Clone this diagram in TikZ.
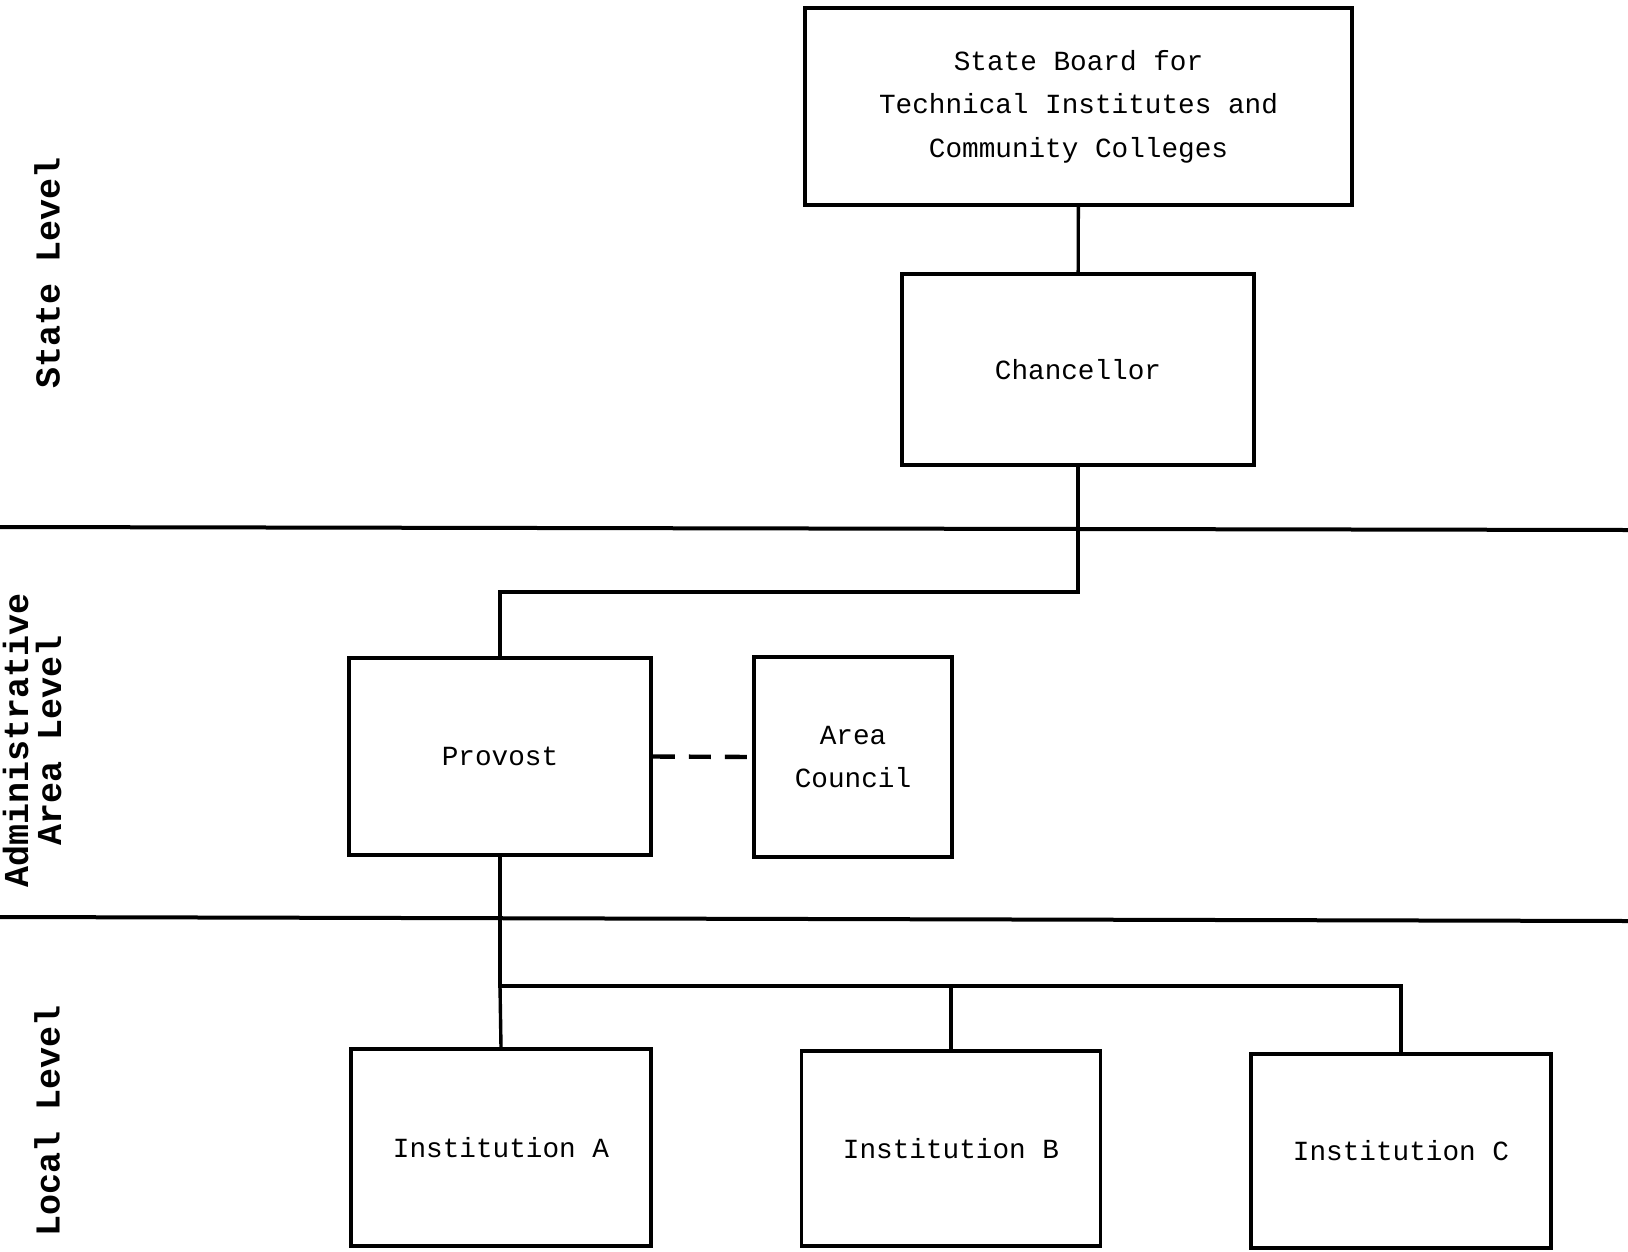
\documentclass[tikz,border=0pt]{standalone}
\usepackage{fontspec}
\newfontfamily\boxfont{Liberation Mono}
\newfontfamily\levelfont{Liberation Mono}
\tikzset{
  unit/.style={draw, line width=3.6pt, inner sep=0pt, align=center,
    font=\boxfont\fontsize{27.7}{43.6}\selectfont},
  level/.style={rotate=90, align=center, inner sep=0pt,
    font=\levelfont\bfseries\fontsize{35}{33}\selectfont},
  link/.style={line width=3.4pt},
}
\begin{document}
\begin{tikzpicture}[x=1pt, y=-1pt]
  \useasboundingbox (0,0) rectangle (1628,1251);
  % level rules
  \draw[link, line width=4pt] (0,527) -- (1628,530);
  \draw[link, line width=4pt] (0,917) -- (1628,921);
  % level labels
  \node[level] (lstate) at (47,273) {State Level};
  \node[level] (ladmin) at (32,740) {Administrative\\Area Level};
  \node[level] (llocal) at (47,1121) {Local Level};
  % units
  \node[unit, minimum width=547pt, minimum height=197pt] (board) at (1078.5,106.5)
    {State Board for\\Technical Institutes and\\Community Colleges};
  \node[unit, minimum width=352pt, minimum height=191pt] (chancellor) at (1078,369.5) {Chancellor};
  \node[unit, minimum width=302pt, minimum height=197pt] (provost) at (500,756.5) {Provost};
  \node[unit, minimum width=198pt, minimum height=200pt] (council) at (853,757) {Area\\Council};
  \node[unit, minimum width=300pt, minimum height=197pt] (instA) at (501,1147.5) {Institution A};
  \node[unit, minimum width=299pt, minimum height=195pt] (instB) at (951,1148.5) {Institution B};
  \node[unit, minimum width=300pt, minimum height=194pt] (instC) at (1401,1151) {Institution C};
  % connectors
  \coordinate (bend) at (0,592);
  \coordinate (bus) at (0,986);
  \draw[link] (board) -- (chancellor);
  \draw[link] (chancellor.south) -- (chancellor.south |- bend) -| (provost.north);
  \draw[link, line width=4.4pt, dash pattern=on 22pt off 14pt] (provost.east) -- (council.west);
  \draw[link] (provost.south) -- (provost.south |- bus) -| (instC.north);
  \draw[link] (provost.south |- bus) -- (instA.north);
  \draw[link] (instB.north |- bus) -- (instB.north);
\end{tikzpicture}
\end{document}
